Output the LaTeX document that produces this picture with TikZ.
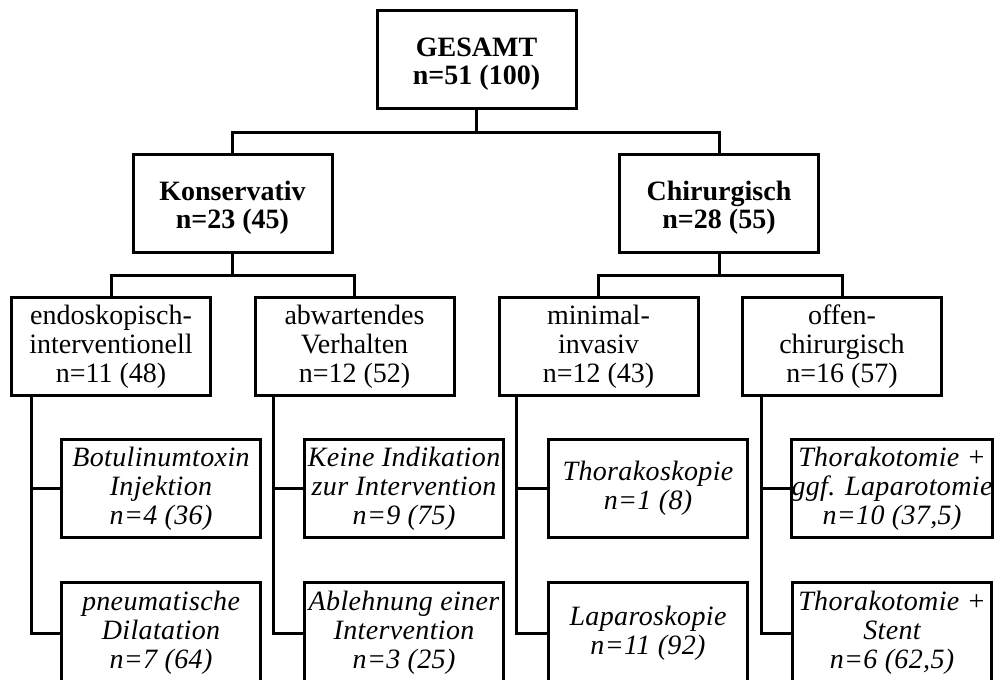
\documentclass[tikz,border=0pt]{standalone}
\usepackage{fontspec}
\setmainfont{Liberation Serif}[ItalicFeatures={LetterSpace=1.3}]
\begin{document}
\begin{tikzpicture}[x=1pt,y=-1pt,
  box/.style={draw=black, line width=3pt, minimum width=199pt, minimum height=98pt,
              align=center, inner sep=0pt, font=\fontsize{28}{29}\selectfont},
  boldbox/.style={box, font=\fontsize{28}{28}\selectfont\bfseries},
  itbox/.style={box, font=\fontsize{28}{29}\selectfont\itshape},
  lowbox/.style={itbox, minimum height=101pt},
  link/.style={draw=black, line width=3pt}]
\useasboundingbox (0,0) rectangle (994,680);
\clip (0,0) rectangle (994,680);
% level 1
\node[boldbox] (gesamt) at (476.5,59.5) {\rule{0pt}{27pt}GESAMT\\n=51 (100)};
% level 2
\node[boldbox] (kons) at (232.5,203.5) {\rule{0pt}{27pt}Konservativ\\n=23 (45)};
\node[boldbox] (chir) at (719,203.5) {\rule{0pt}{27pt}Chirurgisch\\n=28 (55)};
% level 3
\node[box] (endo) at (111,346.5) {endoskopisch-\\interventionell\\n=11 (48)};
\node[box] (abw) at (354.5,346.5) {abwartendes\\Verhalten\\n=12 (52)};
\node[box] (mini) at (598.5,346.5) {minimal-\\invasiv\\n=12 (43)};
\node[box] (offen) at (842,346.5) {offen-\\chirurgisch\\n=16 (57)};
% level 4
\node[itbox] (botu) at (161,488.5) {Botulinumtoxin\\Injektion\\n=4 (36)};
\node[lowbox] (pneu) at (161,633) {pneumatische\\Dilatation\\n=7 (64)};
\node[itbox] (keine) at (404,488.5) {Keine Indikation\\zur Intervention\\n=9 (75)};
\node[lowbox] (ableh) at (404,633) {Ablehnung einer\\Intervention\\n=3 (25)};
\node[itbox] (thsk) at (648,488.5) {Thorakoskopie\\n=1 (8)};
\node[lowbox] (lapsk) at (648,633) {Laparoskopie\\n=11 (92)};
\node[itbox] (thtl) at (892,488.5) {Thorakotomie +\\ggf. Laparotomie\\n=10 (37,5)};
\node[lowbox] (thst) at (892,633) {Thorakotomie +\\Stent\\n=6 (62,5)};
% connectors level 1-2
\coordinate (j1) at (476.5,132);
\draw[link] (gesamt.south) -- (j1);
\draw[link] (kons.north) -- (kons.north |- j1) -- (chir.north |- j1) -- (chir.north);
% connectors level 2-3
\coordinate (j2) at (232.5,275);
\coordinate (j3) at (719,275);
\draw[link] (kons.south) -- (j2);
\draw[link] (endo.north) -- (endo.north |- j2) -- (abw.north |- j2) -- (abw.north);
\draw[link] (chir.south) -- (j3);
\draw[link] (mini.north) -- (mini.north |- j3) -- (offen.north |- j3) -- (offen.north);
% connectors level 3-4
\coordinate (s1) at ([xshift=21pt]endo.south west);
\coordinate (s2) at ([xshift=20pt]abw.south west);
\coordinate (s3) at ([xshift=19pt]mini.south west);
\coordinate (s4) at ([xshift=20pt]offen.south west);
\draw[link] (s1) |- (pneu.west);
\draw[link] (s1 |- botu.west) -- (botu.west);
\draw[link] (s2) |- (ableh.west);
\draw[link] (s2 |- keine.west) -- (keine.west);
\draw[link] (s3) |- (lapsk.west);
\draw[link] (s3 |- thsk.west) -- (thsk.west);
\draw[link] (s4) |- (thst.west);
\draw[link] (s4 |- thtl.west) -- (thtl.west);
\end{tikzpicture}
\end{document}
